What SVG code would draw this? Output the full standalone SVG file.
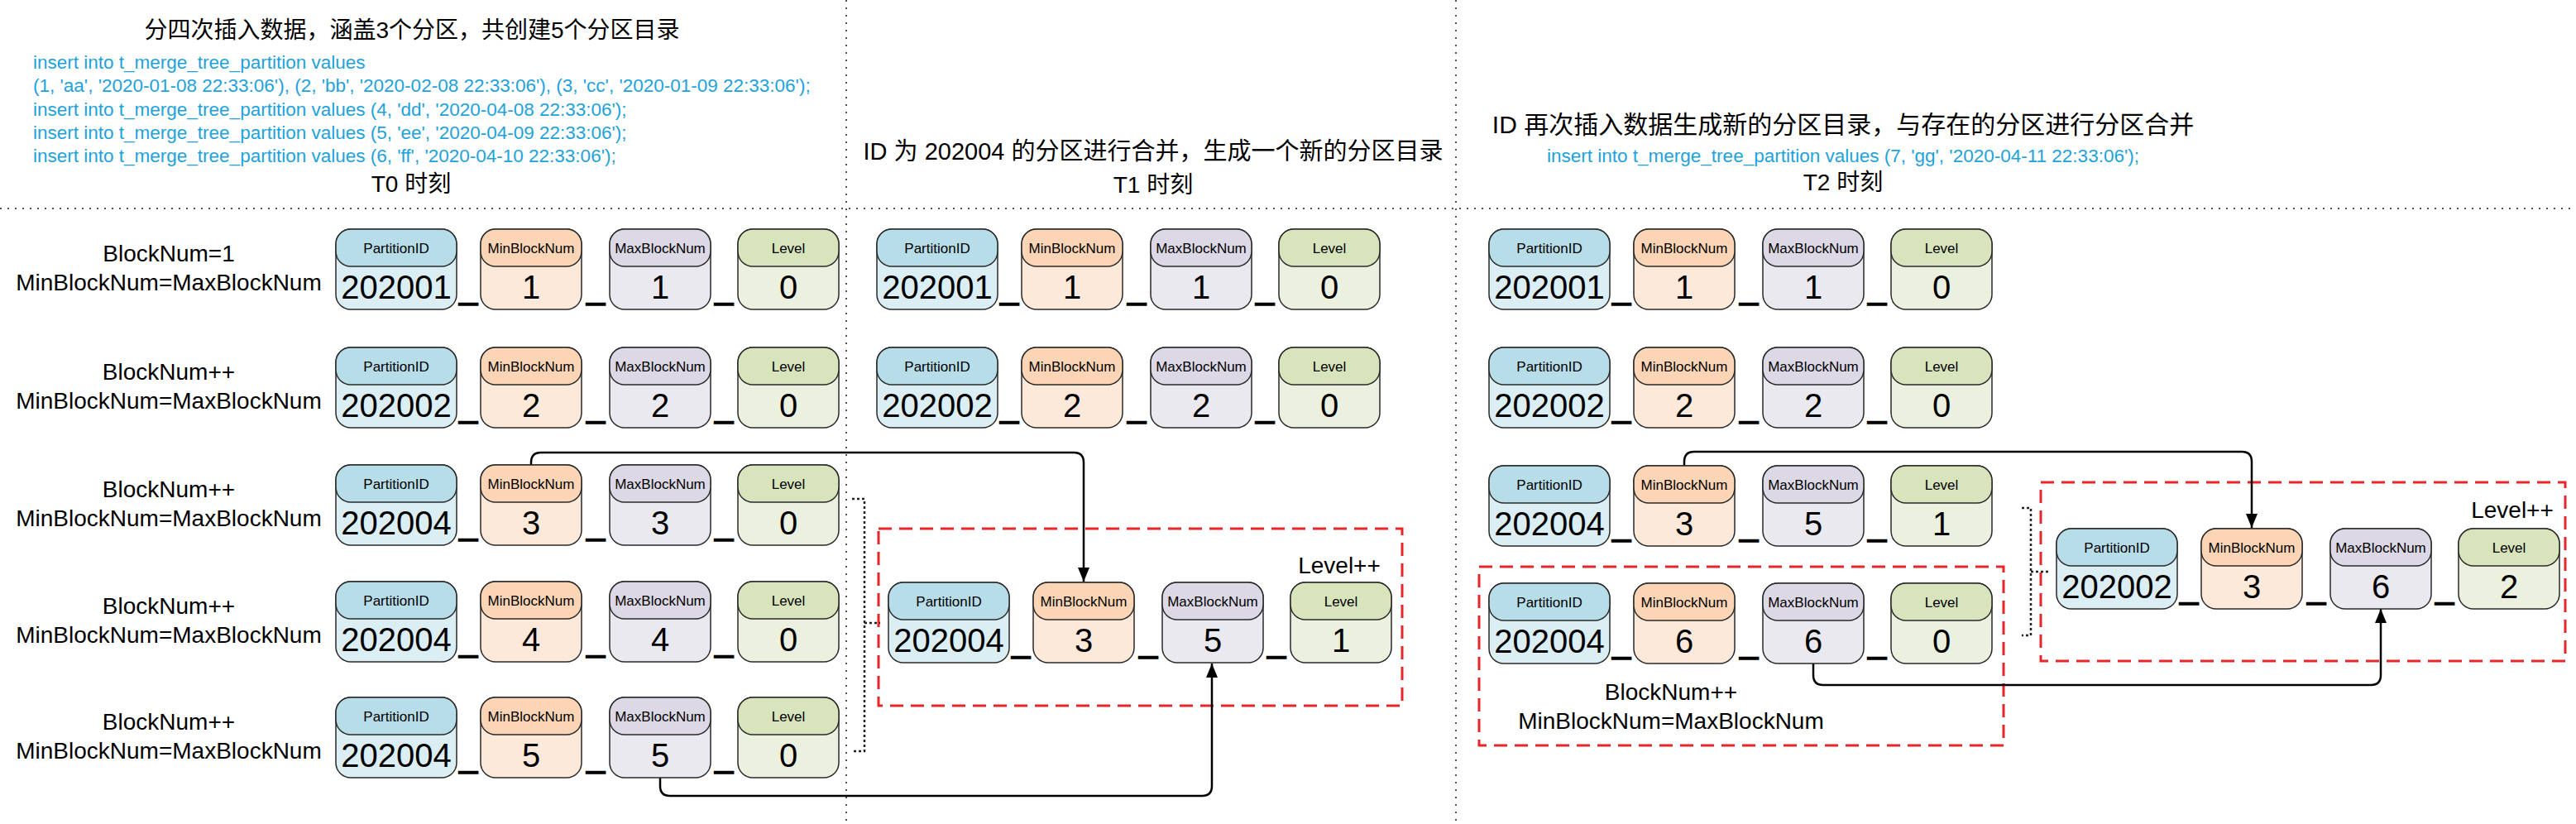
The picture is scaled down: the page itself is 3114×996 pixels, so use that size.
<svg xmlns="http://www.w3.org/2000/svg" width="3114" height="996" viewBox="0 0 3114 996">
<defs>
<style>
text{font-family:"Liberation Sans","Noto Sans CJK SC",sans-serif;fill:#000}
.ttl{font-size:28px;text-anchor:middle}
.sql{font-size:22.5px;fill:#1ea2dc}
.sqlc{font-size:22.5px;fill:#1ea2dc;text-anchor:middle}
.lbl{font-size:28px;text-anchor:middle}
.ht{font-size:17px;text-anchor:middle}
.vt{font-size:40px;text-anchor:middle}
.us{font-size:40px;text-anchor:middle;stroke:#000;stroke-width:1.3}
.sep{stroke:#555;stroke-width:2;stroke-dasharray:2 7;fill:none}
.brk{stroke:#222;stroke-width:2.5;stroke-dasharray:3 3;fill:none}
.red{stroke:#e8262a;stroke-width:3;stroke-dasharray:16 9;fill:none}
.con{stroke:#000;stroke-width:2.5;fill:none}
.card{stroke:#2a2a2a;stroke-width:1.5}
.pb{fill:#dbeef3}.ph{fill:#b7dde8}
.mb{fill:#fde9d9}.mh{fill:#fbd5b5}
.xb{fill:#ebe9f0}.xh{fill:#dcd8e5}
.lb{fill:#ebf1de}.lh{fill:#d7e4bc}
</style>
<marker id="arr" markerUnits="userSpaceOnUse" markerWidth="18" markerHeight="16" refX="17" refY="7" orient="auto">
<path d="M0,0 L17,7 L0,14 z" fill="#000"/>
</marker>
</defs>
<rect x="0" y="0" width="3114" height="996" fill="#fff"/>

<g id="separators">
<line class="sep" x1="0" y1="252" x2="3114" y2="252"/>
<line class="sep" x1="1023" y1="0" x2="1023" y2="996"/>
<line class="sep" x1="1760" y1="0" x2="1760" y2="996"/>
</g>

<g id="headings">
<text class="ttl" x="498" y="46">分四次插入数据，涵盖3个分区，共创建5个分区目录</text>
<text class="sql" x="40" y="83">insert into t_merge_tree_partition values</text>
<text class="sql" x="40" y="111">(1, 'aa', '2020-01-08 22:33:06'), (2, 'bb', '2020-02-08 22:33:06'), (3, 'cc', '2020-01-09 22:33:06');</text>
<text class="sql" x="40" y="140">insert into t_merge_tree_partition values (4, 'dd', '2020-04-08 22:33:06');</text>
<text class="sql" x="40" y="168">insert into t_merge_tree_partition values (5, 'ee', '2020-04-09 22:33:06');</text>
<text class="sql" x="40" y="196">insert into t_merge_tree_partition values (6, 'ff', '2020-04-10 22:33:06');</text>
<text class="ttl" x="497" y="232">T0 时刻</text>
<text class="ttl" x="1394" y="193" style="font-size:29px">ID 为 202004 的分区进行合并，生成一个新的分区目录</text>
<text class="ttl" x="1394" y="233">T1 时刻</text>
<text class="ttl" x="2228" y="161" style="font-size:30px">ID 再次插入数据生成新的分区目录，与存在的分区进行分区合并</text>
<text class="sqlc" x="2228" y="196">insert into t_merge_tree_partition values (7, 'gg', '2020-04-11 22:33:06');</text>
<text class="ttl" x="2228" y="230">T2 时刻</text>
</g>

<g id="row-labels">
<text class="lbl" x="204" y="316">BlockNum=1</text>
<text class="lbl" x="204" y="351">MinBlockNum=MaxBlockNum</text>
<text class="lbl" x="204" y="459">BlockNum++</text>
<text class="lbl" x="204" y="494">MinBlockNum=MaxBlockNum</text>
<text class="lbl" x="204" y="601">BlockNum++</text>
<text class="lbl" x="204" y="636">MinBlockNum=MaxBlockNum</text>
<text class="lbl" x="204" y="742">BlockNum++</text>
<text class="lbl" x="204" y="777">MinBlockNum=MaxBlockNum</text>
<text class="lbl" x="204" y="882">BlockNum++</text>
<text class="lbl" x="204" y="917">MinBlockNum=MaxBlockNum</text>
</g>

<g id="groups">
<rect class="red" x="1062" y="639" width="633" height="214"/>
<text class="lbl" x="1619" y="693">Level++</text>
<rect class="red" x="1788" y="685" width="634" height="216"/>
<text class="lbl" x="2020" y="846">BlockNum++</text>
<text class="lbl" x="2020" y="881">MinBlockNum=MaxBlockNum</text>
<rect class="red" x="2467" y="583" width="634" height="216"/>
<text class="lbl" x="3037" y="626">Level++</text>
</g>

<g id="connectors">
<path class="con" d="M642,562 L642,559 Q642,547 654,547 L1298,547 Q1310,547 1310,559 L1310,703" marker-end="url(#arr)"/>
<path class="con" d="M798,940 L798,950 Q798,962 810,962 L1453,962 Q1465,962 1465,950 L1465,802" marker-end="url(#arr)"/>
<path class="brk" d="M1030,603 H1045 V908 H1030 M1045,753 H1064"/>
<path class="con" d="M2036,563 L2036,558 Q2036,546 2048,546 L2710,546 Q2722,546 2722,558 L2722,638" marker-end="url(#arr)"/>
<path class="con" d="M2192,802 L2192,816 Q2192,828 2204,828 L2866,828 Q2878,828 2878,816 L2878,736" marker-end="url(#arr)"/>
<path class="brk" d="M2444,614 H2455 V768 H2444 M2455,691 H2476"/>
</g>

<!-- T0 column -->
<g id="t0-r1" transform="translate(406,277)">
<g id="t0-r1-pid"><rect class="card pb" width="146" height="97" rx="18"/><rect class="card ph" width="146" height="45" rx="18"/><text class="ht" x="73" y="29">PartitionID</text><text class="vt" x="73" y="84">202001</text></g>
<text class="us" x="160" y="84">_</text>
<g id="t0-r1-min"><rect class="card mb" x="175" width="122" height="97" rx="18"/><rect class="card mh" x="175" width="122" height="45" rx="18"/><text class="ht" x="236" y="29">MinBlockNum</text><text class="vt" x="236" y="84">1</text></g>
<text class="us" x="314" y="84">_</text>
<g id="t0-r1-max"><rect class="card xb" x="331" width="122" height="97" rx="18"/><rect class="card xh" x="331" width="122" height="45" rx="18"/><text class="ht" x="392" y="29">MaxBlockNum</text><text class="vt" x="392" y="84">1</text></g>
<text class="us" x="469" y="84">_</text>
<g id="t0-r1-lvl"><rect class="card lb" x="486" width="122" height="97" rx="18"/><rect class="card lh" x="486" width="122" height="45" rx="18"/><text class="ht" x="547" y="29">Level</text><text class="vt" x="547" y="84">0</text></g>
</g>

<g id="t0-r2" transform="translate(406,420)">
<g id="t0-r2-pid"><rect class="card pb" width="146" height="97" rx="18"/><rect class="card ph" width="146" height="45" rx="18"/><text class="ht" x="73" y="29">PartitionID</text><text class="vt" x="73" y="84">202002</text></g>
<text class="us" x="160" y="84">_</text>
<g id="t0-r2-min"><rect class="card mb" x="175" width="122" height="97" rx="18"/><rect class="card mh" x="175" width="122" height="45" rx="18"/><text class="ht" x="236" y="29">MinBlockNum</text><text class="vt" x="236" y="84">2</text></g>
<text class="us" x="314" y="84">_</text>
<g id="t0-r2-max"><rect class="card xb" x="331" width="122" height="97" rx="18"/><rect class="card xh" x="331" width="122" height="45" rx="18"/><text class="ht" x="392" y="29">MaxBlockNum</text><text class="vt" x="392" y="84">2</text></g>
<text class="us" x="469" y="84">_</text>
<g id="t0-r2-lvl"><rect class="card lb" x="486" width="122" height="97" rx="18"/><rect class="card lh" x="486" width="122" height="45" rx="18"/><text class="ht" x="547" y="29">Level</text><text class="vt" x="547" y="84">0</text></g>
</g>

<g id="t0-r3" transform="translate(406,562)">
<g id="t0-r3-pid"><rect class="card pb" width="146" height="97" rx="18"/><rect class="card ph" width="146" height="45" rx="18"/><text class="ht" x="73" y="29">PartitionID</text><text class="vt" x="73" y="84">202004</text></g>
<text class="us" x="160" y="84">_</text>
<g id="t0-r3-min"><rect class="card mb" x="175" width="122" height="97" rx="18"/><rect class="card mh" x="175" width="122" height="45" rx="18"/><text class="ht" x="236" y="29">MinBlockNum</text><text class="vt" x="236" y="84">3</text></g>
<text class="us" x="314" y="84">_</text>
<g id="t0-r3-max"><rect class="card xb" x="331" width="122" height="97" rx="18"/><rect class="card xh" x="331" width="122" height="45" rx="18"/><text class="ht" x="392" y="29">MaxBlockNum</text><text class="vt" x="392" y="84">3</text></g>
<text class="us" x="469" y="84">_</text>
<g id="t0-r3-lvl"><rect class="card lb" x="486" width="122" height="97" rx="18"/><rect class="card lh" x="486" width="122" height="45" rx="18"/><text class="ht" x="547" y="29">Level</text><text class="vt" x="547" y="84">0</text></g>
</g>

<g id="t0-r4" transform="translate(406,703)">
<g id="t0-r4-pid"><rect class="card pb" width="146" height="97" rx="18"/><rect class="card ph" width="146" height="45" rx="18"/><text class="ht" x="73" y="29">PartitionID</text><text class="vt" x="73" y="84">202004</text></g>
<text class="us" x="160" y="84">_</text>
<g id="t0-r4-min"><rect class="card mb" x="175" width="122" height="97" rx="18"/><rect class="card mh" x="175" width="122" height="45" rx="18"/><text class="ht" x="236" y="29">MinBlockNum</text><text class="vt" x="236" y="84">4</text></g>
<text class="us" x="314" y="84">_</text>
<g id="t0-r4-max"><rect class="card xb" x="331" width="122" height="97" rx="18"/><rect class="card xh" x="331" width="122" height="45" rx="18"/><text class="ht" x="392" y="29">MaxBlockNum</text><text class="vt" x="392" y="84">4</text></g>
<text class="us" x="469" y="84">_</text>
<g id="t0-r4-lvl"><rect class="card lb" x="486" width="122" height="97" rx="18"/><rect class="card lh" x="486" width="122" height="45" rx="18"/><text class="ht" x="547" y="29">Level</text><text class="vt" x="547" y="84">0</text></g>
</g>

<g id="t0-r5" transform="translate(406,843)">
<g id="t0-r5-pid"><rect class="card pb" width="146" height="97" rx="18"/><rect class="card ph" width="146" height="45" rx="18"/><text class="ht" x="73" y="29">PartitionID</text><text class="vt" x="73" y="84">202004</text></g>
<text class="us" x="160" y="84">_</text>
<g id="t0-r5-min"><rect class="card mb" x="175" width="122" height="97" rx="18"/><rect class="card mh" x="175" width="122" height="45" rx="18"/><text class="ht" x="236" y="29">MinBlockNum</text><text class="vt" x="236" y="84">5</text></g>
<text class="us" x="314" y="84">_</text>
<g id="t0-r5-max"><rect class="card xb" x="331" width="122" height="97" rx="18"/><rect class="card xh" x="331" width="122" height="45" rx="18"/><text class="ht" x="392" y="29">MaxBlockNum</text><text class="vt" x="392" y="84">5</text></g>
<text class="us" x="469" y="84">_</text>
<g id="t0-r5-lvl"><rect class="card lb" x="486" width="122" height="97" rx="18"/><rect class="card lh" x="486" width="122" height="45" rx="18"/><text class="ht" x="547" y="29">Level</text><text class="vt" x="547" y="84">0</text></g>
</g>

<!-- T1 column -->
<g id="t1-r1" transform="translate(1060,277)">
<g id="t1-r1-pid"><rect class="card pb" width="146" height="97" rx="18"/><rect class="card ph" width="146" height="45" rx="18"/><text class="ht" x="73" y="29">PartitionID</text><text class="vt" x="73" y="84">202001</text></g>
<text class="us" x="160" y="84">_</text>
<g id="t1-r1-min"><rect class="card mb" x="175" width="122" height="97" rx="18"/><rect class="card mh" x="175" width="122" height="45" rx="18"/><text class="ht" x="236" y="29">MinBlockNum</text><text class="vt" x="236" y="84">1</text></g>
<text class="us" x="314" y="84">_</text>
<g id="t1-r1-max"><rect class="card xb" x="331" width="122" height="97" rx="18"/><rect class="card xh" x="331" width="122" height="45" rx="18"/><text class="ht" x="392" y="29">MaxBlockNum</text><text class="vt" x="392" y="84">1</text></g>
<text class="us" x="469" y="84">_</text>
<g id="t1-r1-lvl"><rect class="card lb" x="486" width="122" height="97" rx="18"/><rect class="card lh" x="486" width="122" height="45" rx="18"/><text class="ht" x="547" y="29">Level</text><text class="vt" x="547" y="84">0</text></g>
</g>

<g id="t1-r2" transform="translate(1060,420)">
<g id="t1-r2-pid"><rect class="card pb" width="146" height="97" rx="18"/><rect class="card ph" width="146" height="45" rx="18"/><text class="ht" x="73" y="29">PartitionID</text><text class="vt" x="73" y="84">202002</text></g>
<text class="us" x="160" y="84">_</text>
<g id="t1-r2-min"><rect class="card mb" x="175" width="122" height="97" rx="18"/><rect class="card mh" x="175" width="122" height="45" rx="18"/><text class="ht" x="236" y="29">MinBlockNum</text><text class="vt" x="236" y="84">2</text></g>
<text class="us" x="314" y="84">_</text>
<g id="t1-r2-max"><rect class="card xb" x="331" width="122" height="97" rx="18"/><rect class="card xh" x="331" width="122" height="45" rx="18"/><text class="ht" x="392" y="29">MaxBlockNum</text><text class="vt" x="392" y="84">2</text></g>
<text class="us" x="469" y="84">_</text>
<g id="t1-r2-lvl"><rect class="card lb" x="486" width="122" height="97" rx="18"/><rect class="card lh" x="486" width="122" height="45" rx="18"/><text class="ht" x="547" y="29">Level</text><text class="vt" x="547" y="84">0</text></g>
</g>

<g id="t1-merged" transform="translate(1074,704)">
<g id="t1-m-pid"><rect class="card pb" width="146" height="97" rx="18"/><rect class="card ph" width="146" height="45" rx="18"/><text class="ht" x="73" y="29">PartitionID</text><text class="vt" x="73" y="84">202004</text></g>
<text class="us" x="160" y="84">_</text>
<g id="t1-m-min"><rect class="card mb" x="175" width="122" height="97" rx="18"/><rect class="card mh" x="175" width="122" height="45" rx="18"/><text class="ht" x="236" y="29">MinBlockNum</text><text class="vt" x="236" y="84">3</text></g>
<text class="us" x="314" y="84">_</text>
<g id="t1-m-max"><rect class="card xb" x="331" width="122" height="97" rx="18"/><rect class="card xh" x="331" width="122" height="45" rx="18"/><text class="ht" x="392" y="29">MaxBlockNum</text><text class="vt" x="392" y="84">5</text></g>
<text class="us" x="469" y="84">_</text>
<g id="t1-m-lvl"><rect class="card lb" x="486" width="122" height="97" rx="18"/><rect class="card lh" x="486" width="122" height="45" rx="18"/><text class="ht" x="547" y="29">Level</text><text class="vt" x="547" y="84">1</text></g>
</g>

<!-- T2 column -->
<g id="t2-r1" transform="translate(1800,277)">
<g id="t2-r1-pid"><rect class="card pb" width="146" height="97" rx="18"/><rect class="card ph" width="146" height="45" rx="18"/><text class="ht" x="73" y="29">PartitionID</text><text class="vt" x="73" y="84">202001</text></g>
<text class="us" x="160" y="84">_</text>
<g id="t2-r1-min"><rect class="card mb" x="175" width="122" height="97" rx="18"/><rect class="card mh" x="175" width="122" height="45" rx="18"/><text class="ht" x="236" y="29">MinBlockNum</text><text class="vt" x="236" y="84">1</text></g>
<text class="us" x="314" y="84">_</text>
<g id="t2-r1-max"><rect class="card xb" x="331" width="122" height="97" rx="18"/><rect class="card xh" x="331" width="122" height="45" rx="18"/><text class="ht" x="392" y="29">MaxBlockNum</text><text class="vt" x="392" y="84">1</text></g>
<text class="us" x="469" y="84">_</text>
<g id="t2-r1-lvl"><rect class="card lb" x="486" width="122" height="97" rx="18"/><rect class="card lh" x="486" width="122" height="45" rx="18"/><text class="ht" x="547" y="29">Level</text><text class="vt" x="547" y="84">0</text></g>
</g>

<g id="t2-r2" transform="translate(1800,420)">
<g id="t2-r2-pid"><rect class="card pb" width="146" height="97" rx="18"/><rect class="card ph" width="146" height="45" rx="18"/><text class="ht" x="73" y="29">PartitionID</text><text class="vt" x="73" y="84">202002</text></g>
<text class="us" x="160" y="84">_</text>
<g id="t2-r2-min"><rect class="card mb" x="175" width="122" height="97" rx="18"/><rect class="card mh" x="175" width="122" height="45" rx="18"/><text class="ht" x="236" y="29">MinBlockNum</text><text class="vt" x="236" y="84">2</text></g>
<text class="us" x="314" y="84">_</text>
<g id="t2-r2-max"><rect class="card xb" x="331" width="122" height="97" rx="18"/><rect class="card xh" x="331" width="122" height="45" rx="18"/><text class="ht" x="392" y="29">MaxBlockNum</text><text class="vt" x="392" y="84">2</text></g>
<text class="us" x="469" y="84">_</text>
<g id="t2-r2-lvl"><rect class="card lb" x="486" width="122" height="97" rx="18"/><rect class="card lh" x="486" width="122" height="45" rx="18"/><text class="ht" x="547" y="29">Level</text><text class="vt" x="547" y="84">0</text></g>
</g>

<g id="t2-r3" transform="translate(1800,563)">
<g id="t2-r3-pid"><rect class="card pb" width="146" height="97" rx="18"/><rect class="card ph" width="146" height="45" rx="18"/><text class="ht" x="73" y="29">PartitionID</text><text class="vt" x="73" y="84">202004</text></g>
<text class="us" x="160" y="84">_</text>
<g id="t2-r3-min"><rect class="card mb" x="175" width="122" height="97" rx="18"/><rect class="card mh" x="175" width="122" height="45" rx="18"/><text class="ht" x="236" y="29">MinBlockNum</text><text class="vt" x="236" y="84">3</text></g>
<text class="us" x="314" y="84">_</text>
<g id="t2-r3-max"><rect class="card xb" x="331" width="122" height="97" rx="18"/><rect class="card xh" x="331" width="122" height="45" rx="18"/><text class="ht" x="392" y="29">MaxBlockNum</text><text class="vt" x="392" y="84">5</text></g>
<text class="us" x="469" y="84">_</text>
<g id="t2-r3-lvl"><rect class="card lb" x="486" width="122" height="97" rx="18"/><rect class="card lh" x="486" width="122" height="45" rx="18"/><text class="ht" x="547" y="29">Level</text><text class="vt" x="547" y="84">1</text></g>
</g>

<g id="t2-r4" transform="translate(1800,705)">
<g id="t2-r4-pid"><rect class="card pb" width="146" height="97" rx="18"/><rect class="card ph" width="146" height="45" rx="18"/><text class="ht" x="73" y="29">PartitionID</text><text class="vt" x="73" y="84">202004</text></g>
<text class="us" x="160" y="84">_</text>
<g id="t2-r4-min"><rect class="card mb" x="175" width="122" height="97" rx="18"/><rect class="card mh" x="175" width="122" height="45" rx="18"/><text class="ht" x="236" y="29">MinBlockNum</text><text class="vt" x="236" y="84">6</text></g>
<text class="us" x="314" y="84">_</text>
<g id="t2-r4-max"><rect class="card xb" x="331" width="122" height="97" rx="18"/><rect class="card xh" x="331" width="122" height="45" rx="18"/><text class="ht" x="392" y="29">MaxBlockNum</text><text class="vt" x="392" y="84">6</text></g>
<text class="us" x="469" y="84">_</text>
<g id="t2-r4-lvl"><rect class="card lb" x="486" width="122" height="97" rx="18"/><rect class="card lh" x="486" width="122" height="45" rx="18"/><text class="ht" x="547" y="29">Level</text><text class="vt" x="547" y="84">0</text></g>
</g>

<g id="t2-merged" transform="translate(2486,639)">
<g id="t2-m-pid"><rect class="card pb" width="146" height="97" rx="18"/><rect class="card ph" width="146" height="45" rx="18"/><text class="ht" x="73" y="29">PartitionID</text><text class="vt" x="73" y="84">202002</text></g>
<text class="us" x="160" y="84">_</text>
<g id="t2-m-min"><rect class="card mb" x="175" width="122" height="97" rx="18"/><rect class="card mh" x="175" width="122" height="45" rx="18"/><text class="ht" x="236" y="29">MinBlockNum</text><text class="vt" x="236" y="84">3</text></g>
<text class="us" x="314" y="84">_</text>
<g id="t2-m-max"><rect class="card xb" x="331" width="122" height="97" rx="18"/><rect class="card xh" x="331" width="122" height="45" rx="18"/><text class="ht" x="392" y="29">MaxBlockNum</text><text class="vt" x="392" y="84">6</text></g>
<text class="us" x="469" y="84">_</text>
<g id="t2-m-lvl"><rect class="card lb" x="486" width="122" height="97" rx="18"/><rect class="card lh" x="486" width="122" height="45" rx="18"/><text class="ht" x="547" y="29">Level</text><text class="vt" x="547" y="84">2</text></g>
</g>
</svg>
